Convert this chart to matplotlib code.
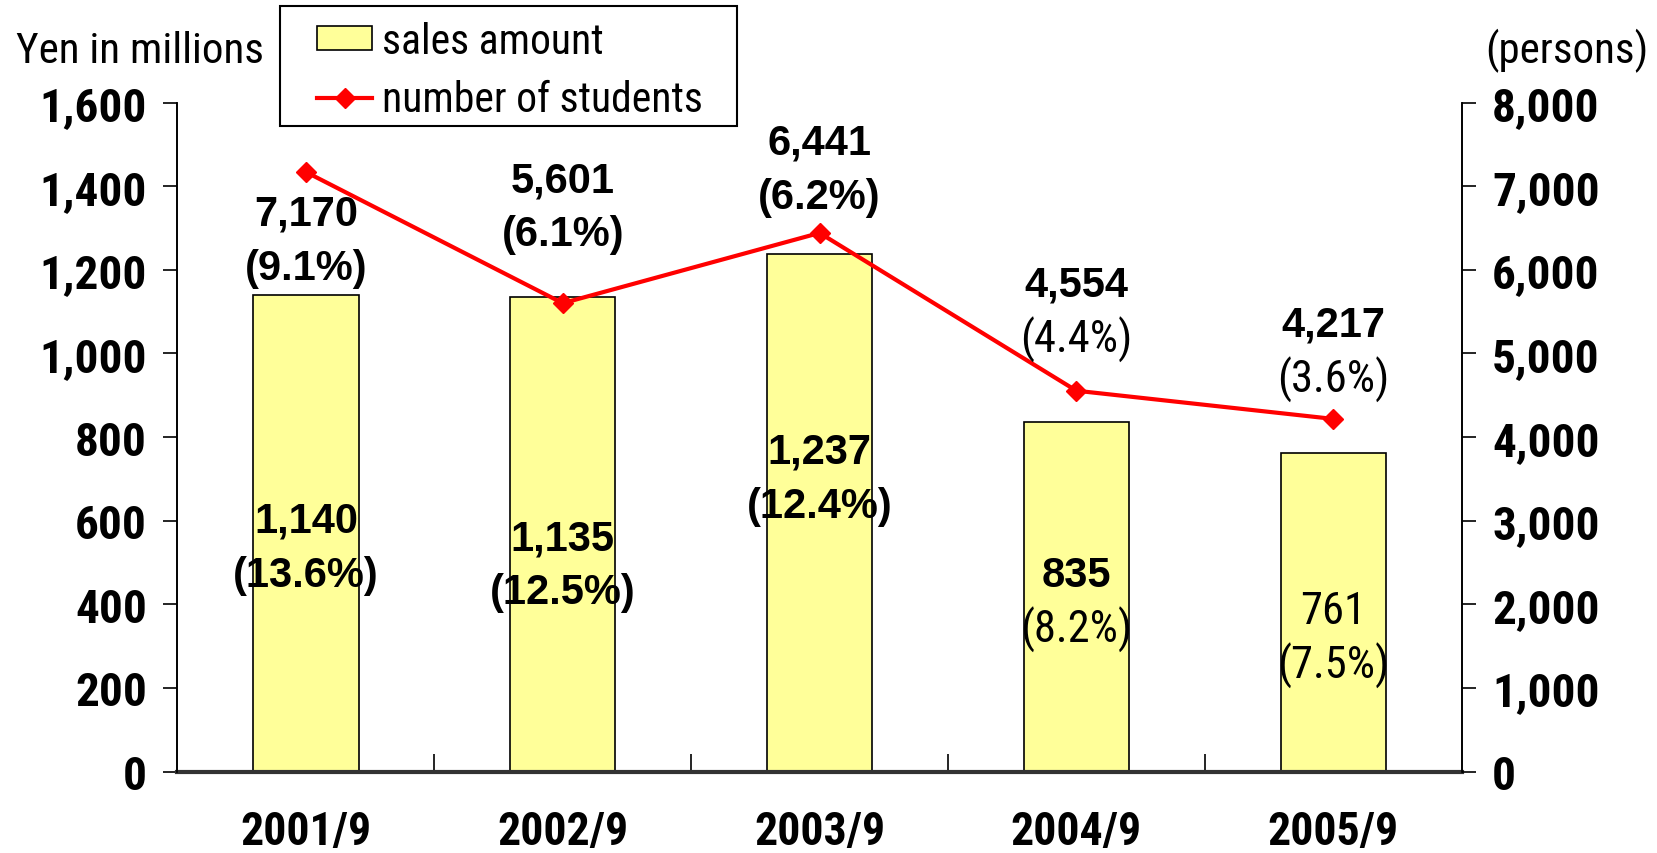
import matplotlib
matplotlib.use("Agg")
import matplotlib.pyplot as plt
import numpy as np
from matplotlib import font_manager
from matplotlib.ticker import FuncFormatter
from matplotlib.patches import Patch, Rectangle
from matplotlib.lines import Line2D

# data
periods = ["2001/9", "2002/9", "2003/9", "2004/9", "2005/9"]
sales = [1140, 1135, 1237, 835, 761]
sales_share = ["(13.6%)", "(12.5%)", "(12.4%)", "(8.2%)", "(7.5%)"]
students = [7170, 5601, 6441, 4554, 4217]
students_share = ["(9.1%)", "(6.1%)", "(6.2%)", "(4.4%)", "(3.6%)"]

# label styling (which lines are bold, where the labels sit)
sales_bold = [(True, True), (True, True), (True, True), (True, False), (False, False)]
students_bold = [(True, True), (True, True), (True, True), (True, False), (True, False)]
bar_label_y = [536, 493, 700, 405, 319]
stud_label_off = [-69, 96, 63, 79, 67]  # pixels from marker to label centre


def pick(cands):
    have = {f.name for f in font_manager.fontManager.ttflist}
    return [c for c in cands if c in have][:1] + ["DejaVu Sans"]


NARROW = pick(["Liberation Sans Narrow", "Arial Narrow", "Roboto Condensed", "Asap Condensed", "Fira Sans Condensed"])
ARIAL = pick(["Liberation Sans", "Arial", "Arimo", "Helvetica"])

fig = plt.figure(figsize=(16.57, 8.54), dpi=100)
ax = fig.add_axes([0.1071, 0.0954, 0.775, 0.7833])
ax2 = ax.twinx()

x = np.arange(len(periods))
ax.bar(x, sales, width=0.41, color="#FFFF99", edgecolor="black", linewidth=1.2, zorder=2)
ax.set_xlim(-0.5, len(periods) - 0.5)
ax.set_ylim(0, 1600)
ax.set_yticks(np.arange(0, 1601, 200))
ax.yaxis.set_major_formatter(FuncFormatter(lambda v, p: f"{int(v):,}"))

ax2.plot(x, students, color="#FF0000", linewidth=3, marker="D", markersize=10, zorder=3)
ax2.set_ylim(0, 8000)
ax2.set_yticks(np.arange(0, 8001, 1000))
ax2.yaxis.set_major_formatter(FuncFormatter(lambda v, p: f"{int(v):,}"))

for a in (ax, ax2):
    a.spines["top"].set_visible(False)
    a.spines["left"].set_linewidth(1.2)
    a.spines["right"].set_linewidth(1.2)
ax2.spines["bottom"].set_visible(False)
ax.spines["bottom"].set_linewidth(3)
ax.spines["bottom"].set_color("#333333")

ax.tick_params(axis="y", direction="out", length=10, width=1.2, pad=12)
ax2.tick_params(axis="y", direction="out", length=10, width=1.2, pad=12)
for lab in ax.get_yticklabels() + ax2.get_yticklabels():
    lab.set_fontfamily(NARROW)
    lab.set_fontsize(34)
    lab.set_fontweight("bold")

ax.set_xticks(x)
ax.set_xticklabels(periods, fontfamily=NARROW, fontsize=33, fontweight="bold")
ax.tick_params(axis="x", length=0, pad=27)
ax.set_xticks(np.arange(0.5, len(periods) - 1, 1.0), minor=True)
ax.tick_params(axis="x", which="minor", direction="in", length=13, width=1.2)

line_gap = 39  # points between the two lines of a label


def label_font(bold):
    if bold:
        return dict(fontfamily=ARIAL, fontsize=30, fontweight="bold")
    return dict(fontfamily=NARROW, fontsize=32, fontweight="normal")


# bar labels
for i in range(len(periods)):
    b1, b2 = sales_bold[i]
    ax.annotate(f"{sales[i]:,}", (x[i], bar_label_y[i]), xytext=(0, line_gap / 2),
                textcoords="offset points", ha="center", va="center", zorder=5, **label_font(b1))
    ax.annotate(sales_share[i], (x[i], bar_label_y[i]), xytext=(0, -line_gap / 2),
                textcoords="offset points", ha="center", va="center", zorder=5, **label_font(b2))

# student labels
for i in range(len(periods)):
    b1, b2 = students_bold[i]
    off = stud_label_off[i] * 0.72
    ax2.annotate(f"{students[i]:,}", (x[i], students[i]), xytext=(0, off + line_gap / 2),
                 textcoords="offset points", ha="center", va="center", **label_font(b1))
    ax2.annotate(students_share[i], (x[i], students[i]), xytext=(0, off - line_gap / 2),
                 textcoords="offset points", ha="center", va="center", **label_font(b2))

fig.text(0.0097, 0.94, "Yen in millions", fontsize=31, fontfamily=NARROW, va="center", ha="left")
fig.text(0.995, 0.94, "(persons)", fontsize=31, fontfamily=NARROW, va="center", ha="right")

# legend: frame drawn separately so the padding matches
fig.patches.append(Rectangle((280 / 1657, 1 - 127 / 854), 457 / 1657, 120 / 854,
                             transform=fig.transFigure, fill=False, edgecolor="black", linewidth=1.5))
handles = [Patch(facecolor="#FFFF99", edgecolor="black", linewidth=1.2),
           Line2D([0], [0], color="#FF0000", linewidth=3, marker="D", markersize=10)]
leg = fig.legend(handles, ["sales amount", "number of students"], loc="upper left",
                 bbox_to_anchor=(317 / 1657, 1 - 22 / 854), frameon=False,
                 prop={"family": NARROW, "size": 30},
                 handlelength=1.32, handleheight=0.5, borderpad=0, labelspacing=0.42,
                 handletextpad=0.25, borderaxespad=0)

fig.savefig("out.png", dpi=100)
